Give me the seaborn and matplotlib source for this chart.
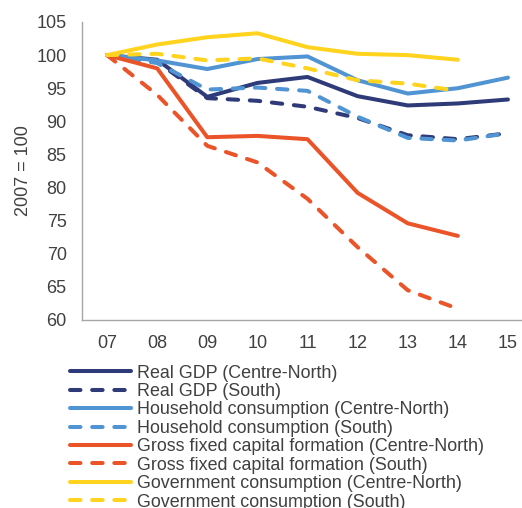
import numpy as np
import pandas as pd
import matplotlib
matplotlib.use("Agg")
import matplotlib.pyplot as plt
import seaborn as sns

years = [2007, 2008, 2009, 2010, 2011, 2012, 2013, 2014, 2015]
tick_labels = ["07", "08", "09", "10", "11", "12", "13", "14", "15"]

gdp_cn = [100, 99.3, 93.7, 95.8, 96.7, 93.8, 92.4, 92.7, 93.3]
gdp_s = [100, 99.0, 93.5, 93.1, 92.2, 90.5, 87.9, 87.3, 88.2]
hh_cn = [100, 99.2, 97.9, 99.4, 99.8, 96.2, 94.2, 95.0, 96.6]
hh_s = [100, 98.8, 94.8, 95.1, 94.6, 90.7, 87.5, 87.1, 88.2]
gfcf_cn = [100, 98.0, 87.6, 87.8, 87.3, 79.2, 74.6, 72.7, np.nan]
gfcf_s = [100, 94.0, 86.3, 83.8, 78.3, 71.0, 64.5, 61.7, np.nan]
gov_cn = [100, 101.6, 102.7, 103.3, 101.2, 100.2, 100.0, 99.3, np.nan]
gov_s = [100, 100.2, 99.2, 99.5, 98.0, 96.2, 95.7, 94.6, np.nan]

series = [
    ("Real GDP (Centre-North)", gdp_cn),
    ("Real GDP (South)", gdp_s),
    ("Household consumption (Centre-North)", hh_cn),
    ("Household consumption (South)", hh_s),
    ("Gross fixed capital formation (Centre-North)", gfcf_cn),
    ("Gross fixed capital formation (South)", gfcf_s),
    ("Government consumption (Centre-North)", gov_cn),
    ("Government consumption (South)", gov_s),
]
colors = ["#2F3B78", "#2F3B78", "#5094D3", "#5094D3",
          "#EA5428", "#EA5428", "#FFD31E", "#FFD31E"]
dashed = [False, True, False, True, False, True, False, True]

sns.set_theme(style="white")
plt.rcParams["font.family"] = ["Liberation Sans", "DejaVu Sans"]
text_color = "#404040"

fig = plt.figure(figsize=(5.22, 5.08), dpi=100)
ax = fig.add_axes([82 / 522, 1 - 320 / 508, (533 - 82) / 522, (320 - 22) / 508])

for (name, vals), c, d in zip(series, colors, dashed):
    df = pd.DataFrame({"year": years, "value": vals}).dropna()
    sns.lineplot(data=df, x="year", y="value", ax=ax, color=c, lw=2.9,
                 label=name, legend=False, solid_capstyle="round",
                 dash_capstyle="round", solid_joinstyle="round")
    line = ax.lines[-1]
    if d:
        line.set_dashes((2.6, 2.9))

ax.set_xlim(2006.5, 2015.5)
ax.set_ylim(60, 105)
ax.set_yticks(np.arange(60, 106, 5))
ax.set_xticks(years)
ax.set_xticklabels(tick_labels)
ax.set_xlabel("")
ax.set_ylabel("2007 = 100", fontsize=13, color=text_color, labelpad=3)
ax.tick_params(axis="both", length=0, labelsize=13, colors=text_color)
ax.tick_params(axis="x", pad=11)
ax.tick_params(axis="y", pad=11)
for s in ["top", "right"]:
    ax.spines[s].set_visible(False)
for s in ["left", "bottom"]:
    ax.spines[s].set_color("#A6A6A6")
    ax.spines[s].set_linewidth(1.0)

handles, labels = ax.get_legend_handles_labels()
leg = fig.legend(handles, labels, loc="upper left",
                 bbox_to_anchor=(70 / 522, 1 - 364.5 / 508),
                 frameon=False, fontsize=12.9, handlelength=3.4,
                 handletextpad=0.35, labelspacing=0.08, borderpad=0,
                 borderaxespad=0)
for t in leg.get_texts():
    t.set_color(text_color)

fig.savefig("out.png", dpi=100)
